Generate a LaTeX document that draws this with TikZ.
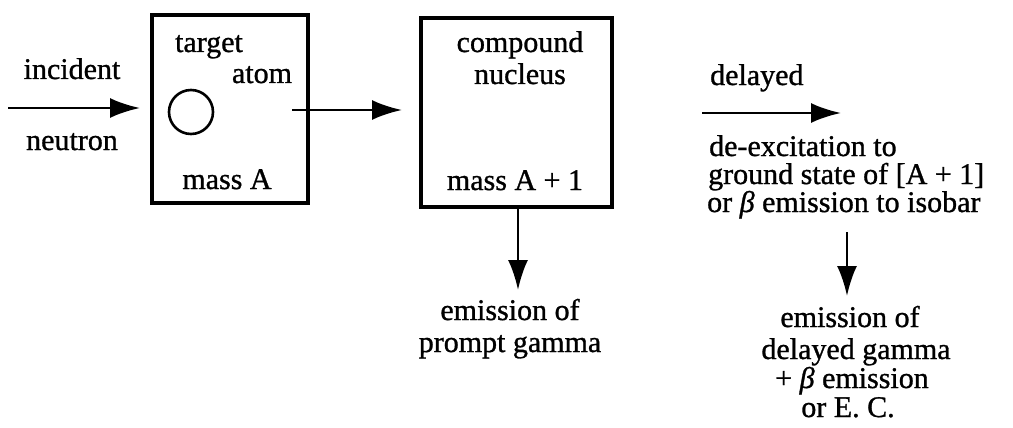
\documentclass[tikz,border=0pt]{standalone}
\usepackage{fontspec}
\setmainfont{Liberation Serif}[FakeBold=1]
\usetikzlibrary{arrows.meta}
\begin{document}
\begin{tikzpicture}[x=1pt,y=-1pt,
  txt/.style={font=\fontsize{30}{30}\selectfont, inner sep=0pt, text height=20pt, text depth=6pt},
  box/.style={draw, line width=3.2pt, inner sep=0pt},
  arr/.style={line width=2.8pt, -{Latex[length=30pt,width=20pt]}}]
\useasboundingbox (0,0) rectangle (1013,428);
\fill[white] (0,0) rectangle (1013,428);
% boxes
\node[box, minimum width=156pt, minimum height=188pt] (tbox) at (230,109) {};
\node[box, minimum width=191pt, minimum height=189pt] (cbox) at (516.5,112.5) {};
% target box contents
\node[txt] (target) at (209,45) {target};
\node[txt] (atom) at (262,76) {atom};
\node[draw, circle, line width=2.6pt, minimum size=44pt, inner sep=0pt] (circ) at (191,112) {};
\node[txt] (massA) at (227,182) {mass A};
% incident neutron
\node[txt] (incident) at (72,72) {incident};
\node[txt] (neutron) at (72,143) {neutron};
% compound box contents
\node[txt] (compound) at (520,45) {compound};
\node[txt] (nucleus) at (520,77) {nucleus};
\node[txt] (massA1) at (515,183) {mass A + 1};
% prompt
\node[txt] (em1) at (510,313) {emission of};
\node[txt] (pg) at (510,345) {prompt gamma};
% delayed branch
\node[txt, anchor=west] (delayed) at (710,78) {delayed};
\node[txt, anchor=west] (dex) at (709,149) {de-excitation to};
\node[txt, anchor=west] (gs) at (708,177) {ground state of [A + 1]};
\node[txt, anchor=west] (orb) at (707,205) {or \textit{β} emission to isobar};
\node[txt] (em2) at (850,320) {emission of};
\node[txt] (dg) at (856,352) {delayed gamma};
\node[txt] (pb) at (852,381) {+ \textit{β} emission};
\node[txt] (orec) at (848,410) {or E. C.};
% connectors
\coordinate (in0) at (8,108);
\coordinate (in1) at (140,108);
\draw[arr] (in0) -- (in1);
\coordinate (a2s) at (292,110);
\coordinate (a2e) at (402,110);
\draw[arr] (a2s) -- (a2e);
\coordinate (d1) at (518,290);
\draw[arr] (cbox.south -| d1) -- (d1);
\coordinate (a4s) at (702,113);
\coordinate (a4e) at (841,113);
\draw[arr] (a4s) -- (a4e);
\coordinate (a5s) at (847,232);
\coordinate (a5e) at (847,296);
\draw[arr] (a5s) -- (a5e);
\end{tikzpicture}
\end{document}
